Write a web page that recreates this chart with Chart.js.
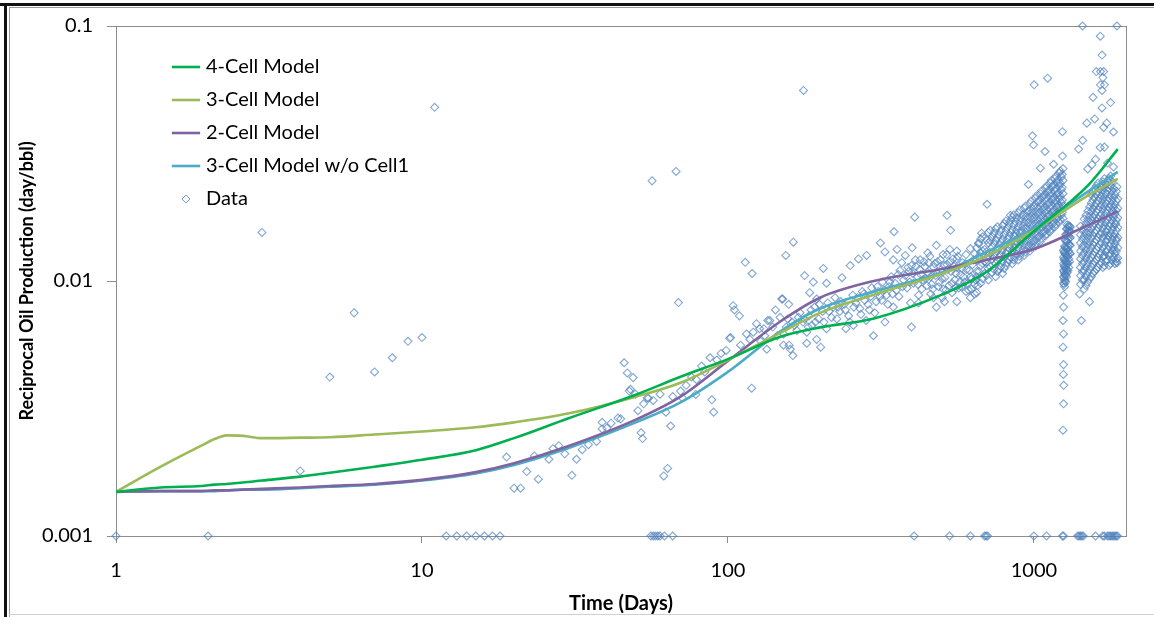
<!DOCTYPE html>
<html>
<head>
<meta charset="utf-8">
<script src="https://cdn.jsdelivr.net/npm/chart.js@4.4.1/dist/chart.umd.min.js"></script>
<style>
html, body { margin: 0; padding: 0; background: #fff; }
#wrap { position: relative; width: 1154px; height: 617px; overflow: hidden; }
#chart { position: absolute; left: 0; top: 0; }
.frame { position: absolute; }
</style>
</head>
<body>
<div id="wrap">
    <canvas id="chart"></canvas>
    <div class="frame" style="left:0; top:3px; width:1154px; height:3px; background:#111;"></div>
    <div class="frame" style="left:9px; top:7px; width:1145px; height:1px; background:#9a9a9a;"></div>
    <div class="frame" style="left:4px; top:3px; width:3px; height:614px; background:#111;"></div>
    <div class="frame" style="left:9px; top:7px; width:1px; height:610px; background:#9a9a9a;"></div>
    <div class="frame" style="left:9px; top:614px; width:1145px; height:1px; background:#d0d0d0;"></div>
</div>
<script>
// axis ticks
const xTickValues = [1, 10, 100, 1000];
const xTickLabels = ["1", "10", "100", "1000"];
const yTickValues = [0.001, 0.01, 0.1];
const yTickLabels = ["0.001", "0.01", "0.1"];

// model curves (days -> day/bbl)
const modelDays = [1, 1.4, 1.9, 2.1, 2.3, 2.6, 3, 4, 5, 7, 10, 15, 20, 30, 50, 70, 100, 150, 200, 300, 500, 700, 1000, 1500, 1880];
const fourCell = [0.00149, 0.00155, 0.00157, 0.00159, 0.00160, 0.00162, 0.00165, 0.00171, 0.00177, 0.00187, 0.00199, 0.00217, 0.00242, 0.00289, 0.00358, 0.00421, 0.00494, 0.00607, 0.00658, 0.00713, 0.00884, 0.01086, 0.01566, 0.02364, 0.0329];
const threeCell = [0.00149, 0.00187, 0.00226, 0.00240, 0.00248, 0.00247, 0.00242, 0.00243, 0.00244, 0.00250, 0.00257, 0.00267, 0.00279, 0.00302, 0.00352, 0.00399, 0.00490, 0.00630, 0.00750, 0.00884, 0.01067, 0.01253, 0.01581, 0.02162, 0.02517];
const twoCell = [0.00149, 0.00150, 0.00150, 0.00151, 0.00151, 0.00152, 0.00153, 0.00155, 0.00157, 0.00160, 0.00166, 0.00178, 0.00193, 0.00225, 0.00286, 0.00352, 0.00486, 0.00700, 0.00860, 0.01000, 0.01115, 0.01209, 0.01334, 0.01653, 0.01874];
const threeCellNoCell1 = [0.00149, 0.00150, 0.00150, 0.00150, 0.00151, 0.00152, 0.00152, 0.00154, 0.00156, 0.00159, 0.00165, 0.00176, 0.00190, 0.00221, 0.00279, 0.00334, 0.00440, 0.00640, 0.00780, 0.00910, 0.01080, 0.01300, 0.01610, 0.02240, 0.02680];

// measured data [days, day/bbl]
const floorPoints = [
    [1, 0.001], [2, 0.001], [12, 0.001], [13, 0.001], [14, 0.001], [15, 0.001], [16, 0.001], [17, 0.001], [18, 0.001],
    [56, 0.001], [57, 0.001], [58, 0.001], [59, 0.001], [60, 0.001], [62, 0.001], [66, 0.001],
    [406, 0.001], [530, 0.001], [620, 0.001], [690, 0.001], [698, 0.001], [706, 0.001],
    [1000, 0.001], [1100, 0.001], [1240, 0.001], [1250, 0.001],
    [1390, 0.001], [1405, 0.001], [1420, 0.001], [1435, 0.001], [1450, 0.001],
    [1590, 0.001], [1680, 0.001], [1700, 0.001],
    [1740, 0.001], [1760, 0.001], [1780, 0.001], [1800, 0.001], [1820, 0.001], [1840, 0.001], [1860, 0.001], [1875, 0.001]
];

const earlyPoints = [
    [3, 0.0155], [4, 0.0018], [5, 0.0042], [6, 0.0075], [7, 0.0044], [8, 0.005], [9, 0.0058], [10, 0.006], [11, 0.048],
    [18.9, 0.00204], [20, 0.00154], [21, 0.00154], [22, 0.00179], [23.3, 0.00206], [24, 0.00167], [26, 0.002],
    [26.8, 0.0022], [28, 0.00226], [29.3, 0.0021], [30.9, 0.00173], [32, 0.002], [33.4, 0.00218], [35, 0.00228],
    [37.2, 0.00235], [38.8, 0.00263], [38.8, 0.00279], [40.2, 0.00265], [41.5, 0.00277], [43.7, 0.0029], [44.6, 0.00288]
];

const midPoints = [
    [45.8, 0.00478], [46.9, 0.00436], [47.6, 0.0037], [48, 0.00376], [49, 0.00418], [49.8, 0.0036], [50.8, 0.0031],
    [52, 0.00254], [52.6, 0.00241], [53, 0.0033], [54.5, 0.00348], [55, 0.00347], [56.5, 0.0247], [57, 0.0034],
    [60, 0.0036], [61.7, 0.00172], [62.7, 0.00306], [63.5, 0.00184], [65, 0.0027], [66, 0.00352], [67.7, 0.0269],
    [68.9, 0.00823], [70, 0.0037], [71, 0.00348], [73, 0.0039], [76, 0.0042], [78.5, 0.00359], [79, 0.0041],
    [82, 0.00464], [84, 0.0044], [87.4, 0.005], [88.6, 0.00342], [89.8, 0.00306], [92, 0.0049], [95, 0.0052], [98.7, 0.00534]
];

const bandPoints = [
    [101.3, 0.00596], [102, 0.006], [104, 0.008], [105, 0.0077], [109, 0.0073], [110, 0.0056], [113.9, 0.01184],
    [115, 0.0062], [118, 0.0059], [119.6, 0.0038], [120, 0.0107], [121, 0.0063], [124, 0.0068], [127, 0.0065],
    [128, 0.0058], [131, 0.0065], [132, 0.0061], [134, 0.0054], [135, 0.007], [137, 0.007], [140, 0.0066],
    [143, 0.0077], [145, 0.0061], [148, 0.0072], [150, 0.0085], [151, 0.0085], [152, 0.0056], [154.6, 0.0126],
    [155, 0.0066], [158, 0.0081], [158.5, 0.0056], [160, 0.0054], [162, 0.0069], [163, 0.0051], [163.6, 0.0142],
    [168, 0.0064], [172, 0.0075], [176, 0.0069], [176.6, 0.0559], [178, 0.0105], [181, 0.0057], [181, 0.0063],
    [184, 0.0073], [185, 0.009], [188, 0.0067], [190, 0.0099], [192, 0.0079], [195, 0.0085], [195, 0.0059],
    [198, 0.0071], [201, 0.0055], [204, 0.0076], [205, 0.0112], [210, 0.0065], [210, 0.0098], [212, 0.0082],
    [218, 0.0072], [224, 0.0086], [229, 0.0079], [232, 0.0076], [236, 0.0103], [240, 0.0081], [243, 0.0065],
    [248, 0.0073], [251, 0.0115], [256, 0.0088], [257, 0.0067], [262, 0.0082], [267, 0.0122], [270, 0.0078],
    [275, 0.0091], [280, 0.0084], [283, 0.007], [284, 0.0126], [290, 0.0077], [295, 0.0094], [299, 0.0061],
    [305, 0.0083], [310, 0.0091], [314, 0.0087], [315, 0.0141], [320, 0.0099], [326, 0.0069], [326, 0.013],
    [330, 0.0088], [336, 0.0095], [342, 0.0104], [347, 0.0079], [347, 0.0121], [349, 0.0156], [355, 0.0092],
    [357, 0.0133], [360, 0.0106],
    [152, 0.0062], [157, 0.0071], [165, 0.0067], [170, 0.0072], [178, 0.0071], [183, 0.0066], [187, 0.0077],
    [193, 0.0069], [199, 0.0081], [206, 0.0069], [214, 0.0076], [221, 0.0079], [227, 0.0071], [234, 0.0083],
    [242, 0.0077], [250, 0.0069], [258, 0.0079], [265, 0.0086], [272, 0.0074], [278, 0.0089], [287, 0.0081],
    [293, 0.0087], [302, 0.0075], [308, 0.0095], [318, 0.0084], [324, 0.0092], [333, 0.0081], [338, 0.0099],
    [345, 0.0089], [352, 0.0098], [362, 0.0087]
];

const plateauPoints = [
    [370, 0.0118], [375, 0.0101], [380, 0.0126], [385, 0.0094], [390, 0.0109], [395, 0.0082], [398, 0.0115],
    [398, 0.0066], [400, 0.0135], [404, 0.0098], [408, 0.0178], [410, 0.0121], [416, 0.0104], [420, 0.0088],
    [423, 0.0111], [430, 0.0093], [437, 0.0119], [443, 0.0102], [450, 0.0108], [457, 0.0125], [463, 0.0097],
    [470, 0.0113], [470, 0.0086], [477, 0.0105], [480, 0.0138], [484, 0.0119], [491, 0.0099], [498, 0.0111],
    [502, 0.0086], [505, 0.0127], [510, 0.0083], [512, 0.0103], [519, 0.0127], [520, 0.0116], [520, 0.0181],
    [528, 0.0096], [531, 0.0133], [534, 0.0158], [536, 0.0109], [544, 0.0122], [552, 0.0101], [556, 0.0094],
    [560, 0.0113], [560, 0.0131], [568, 0.0094], [576, 0.0106], [585, 0.0118], [594, 0.0099], [600, 0.0091],
    [603, 0.0111], [612, 0.0092], [620, 0.0134], [621, 0.0104], [630, 0.0116], [640, 0.0097], [640, 0.0089],
    [650, 0.0109], [660, 0.0141], [675, 0.0154], [703, 0.02],
    [365, 0.011], [372, 0.0095], [380, 0.0105], [388, 0.0113], [393, 0.0099], [402, 0.0107], [412, 0.0114],
    [418, 0.0097], [420, 0.0082], [425, 0.0121], [427, 0.0106], [434, 0.0101], [440, 0.0114], [447, 0.0096],
    [450, 0.0129], [453, 0.0118], [460, 0.0104], [460, 0.0089], [467, 0.0093], [474, 0.0117], [480, 0.0079],
    [481, 0.0108], [488, 0.0095], [495, 0.0121], [501, 0.0102], [505, 0.0093], [508, 0.0115], [516, 0.0092],
    [524, 0.0111], [532, 0.0119], [540, 0.0098], [540, 0.009], [548, 0.0114], [556, 0.0107], [560, 0.0122],
    [560, 0.0083], [564, 0.0125], [572, 0.0099], [580, 0.0112], [580, 0.0095], [589, 0.0104], [598, 0.0117],
    [600, 0.0127], [607, 0.0098], [616, 0.011], [620, 0.0086], [625, 0.0102], [625, 0.0093], [635, 0.0121],
    [640, 0.0128], [645, 0.0101], [650, 0.009], [655, 0.0096]
];

const risePoints = [
    [650, 0.0104], [650, 0.0121], [650, 0.0135],
    [660, 0.0109], [660, 0.0125], [660, 0.014],
    [670, 0.0098], [670, 0.0115], [670, 0.0129], [670, 0.0146],
    [680, 0.0102], [680, 0.0117], [680, 0.0131], [680, 0.0149],
    [690, 0.0107], [690, 0.0119], [690, 0.0133],
    [700, 0.0105], [700, 0.0118], [700, 0.013], [700, 0.0145],
    [710, 0.0101], [710, 0.0112], [710, 0.0126], [710, 0.0141], [710, 0.0155],
    [720, 0.0114], [720, 0.0128], [720, 0.0144], [720, 0.0158],
    [730, 0.0108], [730, 0.0122], [730, 0.0136], [730, 0.0149],
    [740, 0.0111], [740, 0.0125], [740, 0.014], [740, 0.0154],
    [750, 0.0104], [750, 0.0117], [750, 0.0129], [750, 0.0144], [750, 0.016],
    [760, 0.0109], [760, 0.012], [760, 0.0133], [760, 0.0148], [760, 0.0163],
    [770, 0.0111], [770, 0.0124], [770, 0.0138], [770, 0.0152],
    [780, 0.0114], [780, 0.0127], [780, 0.0142], [780, 0.0158],
    [790, 0.0107], [790, 0.0119], [790, 0.0132], [790, 0.0146], [790, 0.0165],
    [800, 0.0112], [800, 0.0124], [800, 0.0137], [800, 0.0152], [800, 0.0168],
    [810, 0.0115], [810, 0.0128], [810, 0.0141], [810, 0.0157], [810, 0.0172],
    [820, 0.0118], [820, 0.0131], [820, 0.0146], [820, 0.0162],
    [830, 0.0121], [830, 0.0135], [830, 0.015], [830, 0.0168], [838, 0.0181],
    [840, 0.0124], [840, 0.0139], [840, 0.0155], [840, 0.0173],
    [850, 0.0117], [850, 0.0131], [850, 0.0144], [850, 0.0159], [850, 0.0178],
    [860, 0.0121], [860, 0.0135], [860, 0.015], [860, 0.0166], [860, 0.0182],
    [870, 0.0125], [870, 0.0139], [870, 0.0154], [870, 0.0171],
    [880, 0.0128], [880, 0.0143], [880, 0.0159], [880, 0.0177],
    [890, 0.0121], [890, 0.0134], [890, 0.0148], [890, 0.0164], [890, 0.0185],
    [900, 0.0125], [900, 0.0139], [900, 0.0154], [900, 0.0171], [900, 0.019],
    [910, 0.0129], [910, 0.0143], [910, 0.0158], [910, 0.0176],
    [920, 0.0133], [920, 0.0148], [920, 0.0164], [920, 0.0182],
    [930, 0.0126], [930, 0.0139], [930, 0.0153], [930, 0.017], [930, 0.0193],
    [940, 0.013], [940, 0.0144], [940, 0.016], [940, 0.0178], [940, 0.0197],
    [950, 0.0134], [950, 0.0149], [950, 0.0165], [950, 0.0184], [960, 0.0239],
    [960, 0.0138], [960, 0.0153], [960, 0.017], [960, 0.0189],
    [970, 0.0131], [970, 0.0145], [970, 0.016], [970, 0.0178], [970, 0.0201],
    [980, 0.0135], [980, 0.015], [980, 0.0166], [980, 0.0185], [980, 0.0206],
    [990, 0.014], [990, 0.0156], [990, 0.0173], [990, 0.0192],
    [1000, 0.0144], [1000, 0.016], [1000, 0.0178], [1000, 0.0198],
    [1010, 0.0137], [1010, 0.0152], [1010, 0.0168], [1010, 0.0187], [1010, 0.0211],
    [1020, 0.0141], [1020, 0.0157], [1020, 0.0174], [1020, 0.0194], [1020, 0.0216],
    [1030, 0.0147], [1030, 0.0163], [1030, 0.0181], [1030, 0.0203],
    [1040, 0.015], [1040, 0.0167], [1040, 0.0186], [1040, 0.0208],
    [1050, 0.0143], [1050, 0.0159], [1050, 0.0176], [1050, 0.0196], [1050, 0.022], [1050, 0.0277],
    [1060, 0.0147], [1060, 0.0163], [1060, 0.0181], [1060, 0.0202], [1060, 0.0226],
    [1070, 0.0154], [1070, 0.017], [1070, 0.019], [1070, 0.0213],
    [1080, 0.0157], [1080, 0.0175], [1080, 0.0195], [1080, 0.0218],
    [1090, 0.015], [1090, 0.0166], [1090, 0.0185], [1090, 0.0206], [1090, 0.0231],
    [1100, 0.0153], [1100, 0.017], [1100, 0.019], [1100, 0.0212], [1100, 0.0236],
    [1110, 0.016], [1110, 0.0178], [1110, 0.0199], [1110, 0.0223],
    [1120, 0.0164], [1120, 0.0182], [1120, 0.0203], [1120, 0.0228],
    [1130, 0.0156], [1130, 0.0174], [1130, 0.0193], [1130, 0.0216], [1130, 0.0242],
    [1140, 0.016], [1140, 0.0178], [1140, 0.0198], [1140, 0.0222], [1140, 0.0248],
    [1150, 0.0167], [1150, 0.0186], [1150, 0.0208], [1150, 0.0234], [1160, 0.0287],
    [1160, 0.0171], [1160, 0.019], [1160, 0.0213], [1160, 0.0239],
    [1170, 0.0163], [1170, 0.0181], [1170, 0.0202], [1170, 0.0226], [1170, 0.0252],
    [1180, 0.0167], [1180, 0.0185], [1180, 0.0207], [1180, 0.0231], [1180, 0.0258],
    [1190, 0.0175], [1190, 0.0195], [1190, 0.0218], [1190, 0.0244],
    [1200, 0.0178], [1200, 0.0199], [1200, 0.0222], [1200, 0.025],
    [1210, 0.017], [1210, 0.0189], [1210, 0.021], [1210, 0.0236], [1210, 0.0265],
    [1220, 0.0174], [1220, 0.0194], [1220, 0.0216], [1220, 0.0242], [1220, 0.027],
    [1230, 0.0182], [1230, 0.0203], [1230, 0.0228], [1230, 0.0256],
    [1238, 0.0186], [1238, 0.0208], [1238, 0.0233], [1238, 0.0262],
    [1245, 0.0176], [1245, 0.0197], [1245, 0.022], [1245, 0.0248], [1245, 0.0276]
];

const dipColumnPoints = [
    [1250, 0.0098], [1250, 0.0104], [1250, 0.011], [1250, 0.0117], [1250, 0.0124], [1250, 0.0132],
    [1255, 0.0097], [1255, 0.0103], [1255, 0.0109], [1255, 0.0115], [1255, 0.0122], [1255, 0.013],
    [1260, 0.0095], [1260, 0.0101], [1260, 0.0107], [1260, 0.0114], [1260, 0.0121], [1260, 0.0129], [1260, 0.0137],
    [1265, 0.01], [1265, 0.0106], [1265, 0.0113], [1265, 0.012], [1265, 0.0128], [1265, 0.0136], [1265, 0.0145],
    [1270, 0.0099], [1270, 0.0105], [1270, 0.0112], [1270, 0.0119], [1270, 0.0127], [1270, 0.0135], [1270, 0.0144], [1270, 0.0152],
    [1278, 0.0104], [1278, 0.011], [1278, 0.0118], [1278, 0.0126], [1278, 0.0134], [1278, 0.0143], [1278, 0.0152], [1278, 0.016],
    [1285, 0.0108], [1285, 0.0116], [1285, 0.0124], [1285, 0.0133], [1285, 0.0142], [1285, 0.0151], [1285, 0.016], [1285, 0.0166],
    [1292, 0.011], [1292, 0.0118], [1292, 0.0127], [1292, 0.0136], [1292, 0.0146], [1292, 0.0155], [1292, 0.0163],
    [1300, 0.0113], [1300, 0.0122], [1300, 0.0131], [1300, 0.014], [1300, 0.015], [1300, 0.0158], [1300, 0.0165],
    [1308, 0.0119], [1308, 0.0128], [1308, 0.0138], [1308, 0.0147], [1308, 0.0156], [1308, 0.0163],
    [1315, 0.0128], [1315, 0.0138], [1315, 0.0148], [1315, 0.0157], [1315, 0.0163],
    [1248, 0.0088], [1250, 0.0079], [1245, 0.007], [1250, 0.0062], [1245, 0.0055], [1250, 0.0047],
    [1248, 0.0043], [1252, 0.0039], [1250, 0.0033], [1245, 0.0026]
];

const lateClusterPoints = [
    [1420, 0.0097], [1420, 0.0105], [1420, 0.0113], [1420, 0.0122], [1420, 0.0131], [1420, 0.0141], [1420, 0.0152], [1420, 0.0164],
    [1440, 0.0101], [1440, 0.0109], [1440, 0.0117], [1440, 0.0126], [1440, 0.0136], [1440, 0.0146], [1440, 0.0158],
    [1460, 0.0093], [1460, 0.0101], [1460, 0.011], [1460, 0.0119], [1460, 0.0129], [1460, 0.0139], [1460, 0.015], [1460, 0.0162], [1460, 0.0175],
    [1480, 0.0096], [1480, 0.0104], [1480, 0.0113], [1480, 0.0123], [1480, 0.0133], [1480, 0.0144], [1480, 0.0155], [1480, 0.0168], [1480, 0.0181],
    [1500, 0.0099], [1500, 0.0108], [1500, 0.0117], [1500, 0.0127], [1500, 0.0138], [1500, 0.0149], [1500, 0.0161], [1500, 0.0174], [1500, 0.0188],
    [1520, 0.0102], [1520, 0.0111], [1520, 0.0121], [1520, 0.0131], [1520, 0.0142], [1520, 0.0154], [1520, 0.0167], [1520, 0.018], [1520, 0.0195],
    [1540, 0.0104], [1540, 0.0114], [1540, 0.0124], [1540, 0.0135], [1540, 0.0147], [1540, 0.016], [1540, 0.0173], [1540, 0.0187], [1540, 0.0202], [1540, 0.0218],
    [1560, 0.0107], [1560, 0.0117], [1560, 0.0127], [1560, 0.0139], [1560, 0.0151], [1560, 0.0164], [1560, 0.0178], [1560, 0.0192], [1560, 0.0208], [1560, 0.0224],
    [1580, 0.0109], [1580, 0.0119], [1580, 0.013], [1580, 0.0142], [1580, 0.0155], [1580, 0.0168], [1580, 0.0182], [1580, 0.0197], [1580, 0.0213], [1580, 0.023],
    [1600, 0.0111], [1600, 0.0121], [1600, 0.0133], [1600, 0.0145], [1600, 0.0158], [1600, 0.0172], [1600, 0.0187], [1600, 0.0202], [1600, 0.0219], [1600, 0.0236],
    [1620, 0.0113], [1620, 0.0124], [1620, 0.0136], [1620, 0.0149], [1620, 0.0162], [1620, 0.0176], [1620, 0.0191], [1620, 0.0207], [1620, 0.0224], [1620, 0.0242],
    [1640, 0.0116], [1640, 0.0127], [1640, 0.0139], [1640, 0.0152], [1640, 0.0165], [1640, 0.018], [1640, 0.0195], [1640, 0.0211], [1640, 0.0229],
    [1660, 0.0118], [1660, 0.0129], [1660, 0.0141], [1660, 0.0154], [1660, 0.0168], [1660, 0.0183], [1660, 0.0199], [1660, 0.0216], [1660, 0.0235],
    [1680, 0.0113], [1680, 0.0124], [1680, 0.0135], [1680, 0.0148], [1680, 0.0161], [1680, 0.0176], [1680, 0.0191], [1680, 0.0208], [1680, 0.0226], [1680, 0.0245],
    [1700, 0.0115], [1700, 0.0126], [1700, 0.0138], [1700, 0.0151], [1700, 0.0165], [1700, 0.018], [1700, 0.0196], [1700, 0.0213], [1700, 0.0232], [1700, 0.0252],
    [1720, 0.0119], [1720, 0.013], [1720, 0.0143], [1720, 0.0156], [1720, 0.017], [1720, 0.0185], [1720, 0.0202], [1720, 0.022], [1720, 0.0239],
    [1740, 0.0121], [1740, 0.0133], [1740, 0.0146], [1740, 0.016], [1740, 0.0175], [1740, 0.0191], [1740, 0.0208], [1740, 0.0227], [1740, 0.0247],
    [1760, 0.0115], [1760, 0.0126], [1760, 0.0137], [1760, 0.015], [1760, 0.0164], [1760, 0.0178], [1760, 0.0194], [1760, 0.0211], [1760, 0.023], [1760, 0.0252],
    [1780, 0.0117], [1780, 0.0128], [1780, 0.014], [1780, 0.0153], [1780, 0.0167], [1780, 0.0182], [1780, 0.0198], [1780, 0.0216], [1780, 0.0236], [1780, 0.0258],
    [1800, 0.0121], [1800, 0.0132], [1800, 0.0145], [1800, 0.0159], [1800, 0.0173], [1800, 0.0189], [1800, 0.0206], [1800, 0.0225], [1800, 0.0245],
    [1820, 0.0124], [1820, 0.0136], [1820, 0.0149], [1820, 0.0163], [1820, 0.0178], [1820, 0.0194], [1820, 0.0212], [1820, 0.0231],
    [1840, 0.0117], [1840, 0.0128], [1840, 0.014], [1840, 0.0153], [1840, 0.0167], [1840, 0.0183], [1840, 0.02], [1840, 0.0218],
    [1860, 0.0119], [1860, 0.0131], [1860, 0.0144], [1860, 0.0158], [1860, 0.0173], [1860, 0.0189], [1860, 0.0206], [1860, 0.0225],
    [1880, 0.0123], [1880, 0.0135], [1880, 0.0148], [1880, 0.0162], [1880, 0.0177], [1880, 0.0193], [1880, 0.021],
    [1430, 0.007], [1410, 0.0089], [1520, 0.0083], [1690, 0.0125], [1740, 0.015], [1830, 0.0132], [1870, 0.0118], [1860, 0.0122]
];

const highPoints = [
    [989, 0.0371], [997, 0.0342], [1002, 0.0588], [1087, 0.0322], [1109, 0.0624], [1240, 0.0385], [1240, 0.0309],
    [1400, 0.0329], [1444, 0.0356], [1442, 0.1], [1868, 0.1], [1648, 0.0912], [1670, 0.0769],
    [1600, 0.0663], [1650, 0.0663], [1690, 0.0663], [1680, 0.0628], [1650, 0.0588], [1700, 0.0588],
    [1670, 0.0559], [1560, 0.0525], [1780, 0.0501], [1670, 0.0477], [1580, 0.0432], [1490, 0.0416],
    [1730, 0.0416], [1690, 0.04], [1820, 0.0384], [1647, 0.0334], [1700, 0.0335], [1547, 0.0286],
    [1590, 0.03], [1500, 0.0275], [1740, 0.029], [1820, 0.028], [1868, 0.0234], [1850, 0.0168], [1860, 0.0146]
];

const dataPoints = floorPoints.concat(earlyPoints, midPoints, bandPoints, plateauPoints,
    risePoints, dipColumnPoints, lateClusterPoints, highPoints);

Chart.defaults.font.family = "Lato, 'Open Sans', sans-serif";
Chart.defaults.color = "#000";

function makeLine(label, values, color)
{
    return {
        label: label,
        data: modelDays.map((d, i) =>
        {
            return { x: d, y: values[i] };
        }),
        showLine: true,
        borderColor: color,
        backgroundColor: color,
        borderWidth: 2.6,
        pointRadius: 0,
        pointHoverRadius: 0,
        pointStyle: "line",
        cubicInterpolationMode: "monotone"
    };
}

// small open diamond used as the legend marker for the data
const diamondIcon = document.createElement("canvas");
diamondIcon.width = 10;
diamondIcon.height = 10;
(function ()
{
    const c = diamondIcon.getContext("2d");
    c.strokeStyle = "rgba(79,129,189,0.8)";
    c.lineWidth = 1;
    c.beginPath();
    c.moveTo(1, 5);
    c.lineTo(5, 1);
    c.lineTo(9, 5);
    c.lineTo(5, 9);
    c.closePath();
    c.stroke();
})();

const plotFrame =
{
    id: "plotFrame",
    beforeDatasetsDraw(chart)
    {
        const a = chart.chartArea;
        const ctx = chart.ctx;
        ctx.save();
        ctx.strokeStyle = "#8c8c8c";
        ctx.lineWidth = 1;
        ctx.strokeRect(Math.round(a.left) + 0.5, Math.round(a.top) + 0.5,
            Math.round(a.right - a.left), Math.round(a.bottom - a.top));
        ctx.restore();
    }
};

const legendPlace =
{
    id: "legendPlace",
    afterLayout(chart)
    {
        const lg = chart.legend;
        if (!lg)
        {
            return;
        }
        lg.left = 163;
        lg.top = 44;
        lg.right = lg.left + lg.width;
        lg.bottom = lg.top + lg.height;
    }
};

new Chart(document.getElementById("chart"),
{
    type: "scatter",
    data:
    {
        datasets:
        [
            makeLine("4-Cell Model", fourCell, "#00b050"),
            makeLine("3-Cell Model", threeCell, "#9bbb59"),
            makeLine("2-Cell Model", twoCell, "#8064a2"),
            makeLine("3-Cell Model w/o Cell1", threeCellNoCell1, "#4bacc6"),
            {
                label: "Data",
                data: dataPoints.map((p) =>
                {
                    return { x: p[0], y: p[1] };
                }),
                pointStyle: "rectRot",
                pointRadius: 4,
                pointHoverRadius: 4,
                borderWidth: 1.1,
                borderColor: "rgba(79,129,189,0.7)",
                backgroundColor: "rgba(255,255,255,0)",
                clip: false
            }
        ]
    },
    options:
    {
        animation: false,
        responsive: true,
        maintainAspectRatio: false,
        layout:
        {
            padding: { left: 0, top: 21, right: 28, bottom: 0 }
        },
        plugins:
        {
            tooltip: { enabled: false },
            legend:
            {
                position: "chartArea",
                align: "start",
                labels:
                {
                    usePointStyle: true,
                    boxWidth: 20,
                    boxHeight: 20,
                    padding: 13,
                    color: "#000",
                    font: { size: 20 },
                    generateLabels(chart)
                    {
                        const items = Chart.defaults.plugins.legend.labels.generateLabels(chart);
                        items[4].pointStyle = diamondIcon;
                        return items;
                    }
                }
            }
        },
        scales:
        {
            x:
            {
                type: "logarithmic",
                min: 1,
                max: 2000,
                afterBuildTicks(scale)
                {
                    scale.ticks = xTickValues.map((v) =>
                    {
                        return { value: v };
                    });
                },
                afterFit(scale)
                {
                    scale.height = 81;
                },
                ticks:
                {
                    autoSkip: false,
                    maxRotation: 0,
                    padding: 16,
                    color: "#000",
                    font: { size: 20 },
                    callback(value, index)
                    {
                        return xTickLabels[index];
                    }
                },
                grid:
                {
                    drawOnChartArea: false,
                    drawTicks: true,
                    tickLength: 7,
                    color: "#8c8c8c"
                },
                border: { display: true, color: "#8c8c8c", width: 1 },
                title:
                {
                    display: true,
                    text: "Time (Days)",
                    color: "#000",
                    font: { size: 20, weight: "bold" },
                    padding: { top: 0, bottom: 1 }
                }
            },
            y:
            {
                type: "logarithmic",
                min: 0.001,
                max: 0.1,
                afterBuildTicks(scale)
                {
                    scale.ticks = yTickValues.map((v) =>
                    {
                        return { value: v };
                    });
                },
                afterFit(scale)
                {
                    scale.width = 116;
                },
                ticks:
                {
                    autoSkip: false,
                    padding: 14,
                    color: "#000",
                    font: { size: 20 },
                    callback(value, index)
                    {
                        return yTickLabels[index];
                    }
                },
                grid:
                {
                    drawOnChartArea: false,
                    drawTicks: true,
                    tickLength: 9,
                    color: "#8c8c8c"
                },
                border: { display: true, color: "#8c8c8c", width: 1 },
                title:
                {
                    display: true,
                    text: "Reciprocal Oil Production (day/bbl)",
                    color: "#000",
                    font: { size: 18, weight: "bold" },
                    padding: { top: 16, bottom: 0 }
                }
            }
        }
    },
    plugins: [plotFrame, legendPlace]
});
</script>
</body>
</html>
